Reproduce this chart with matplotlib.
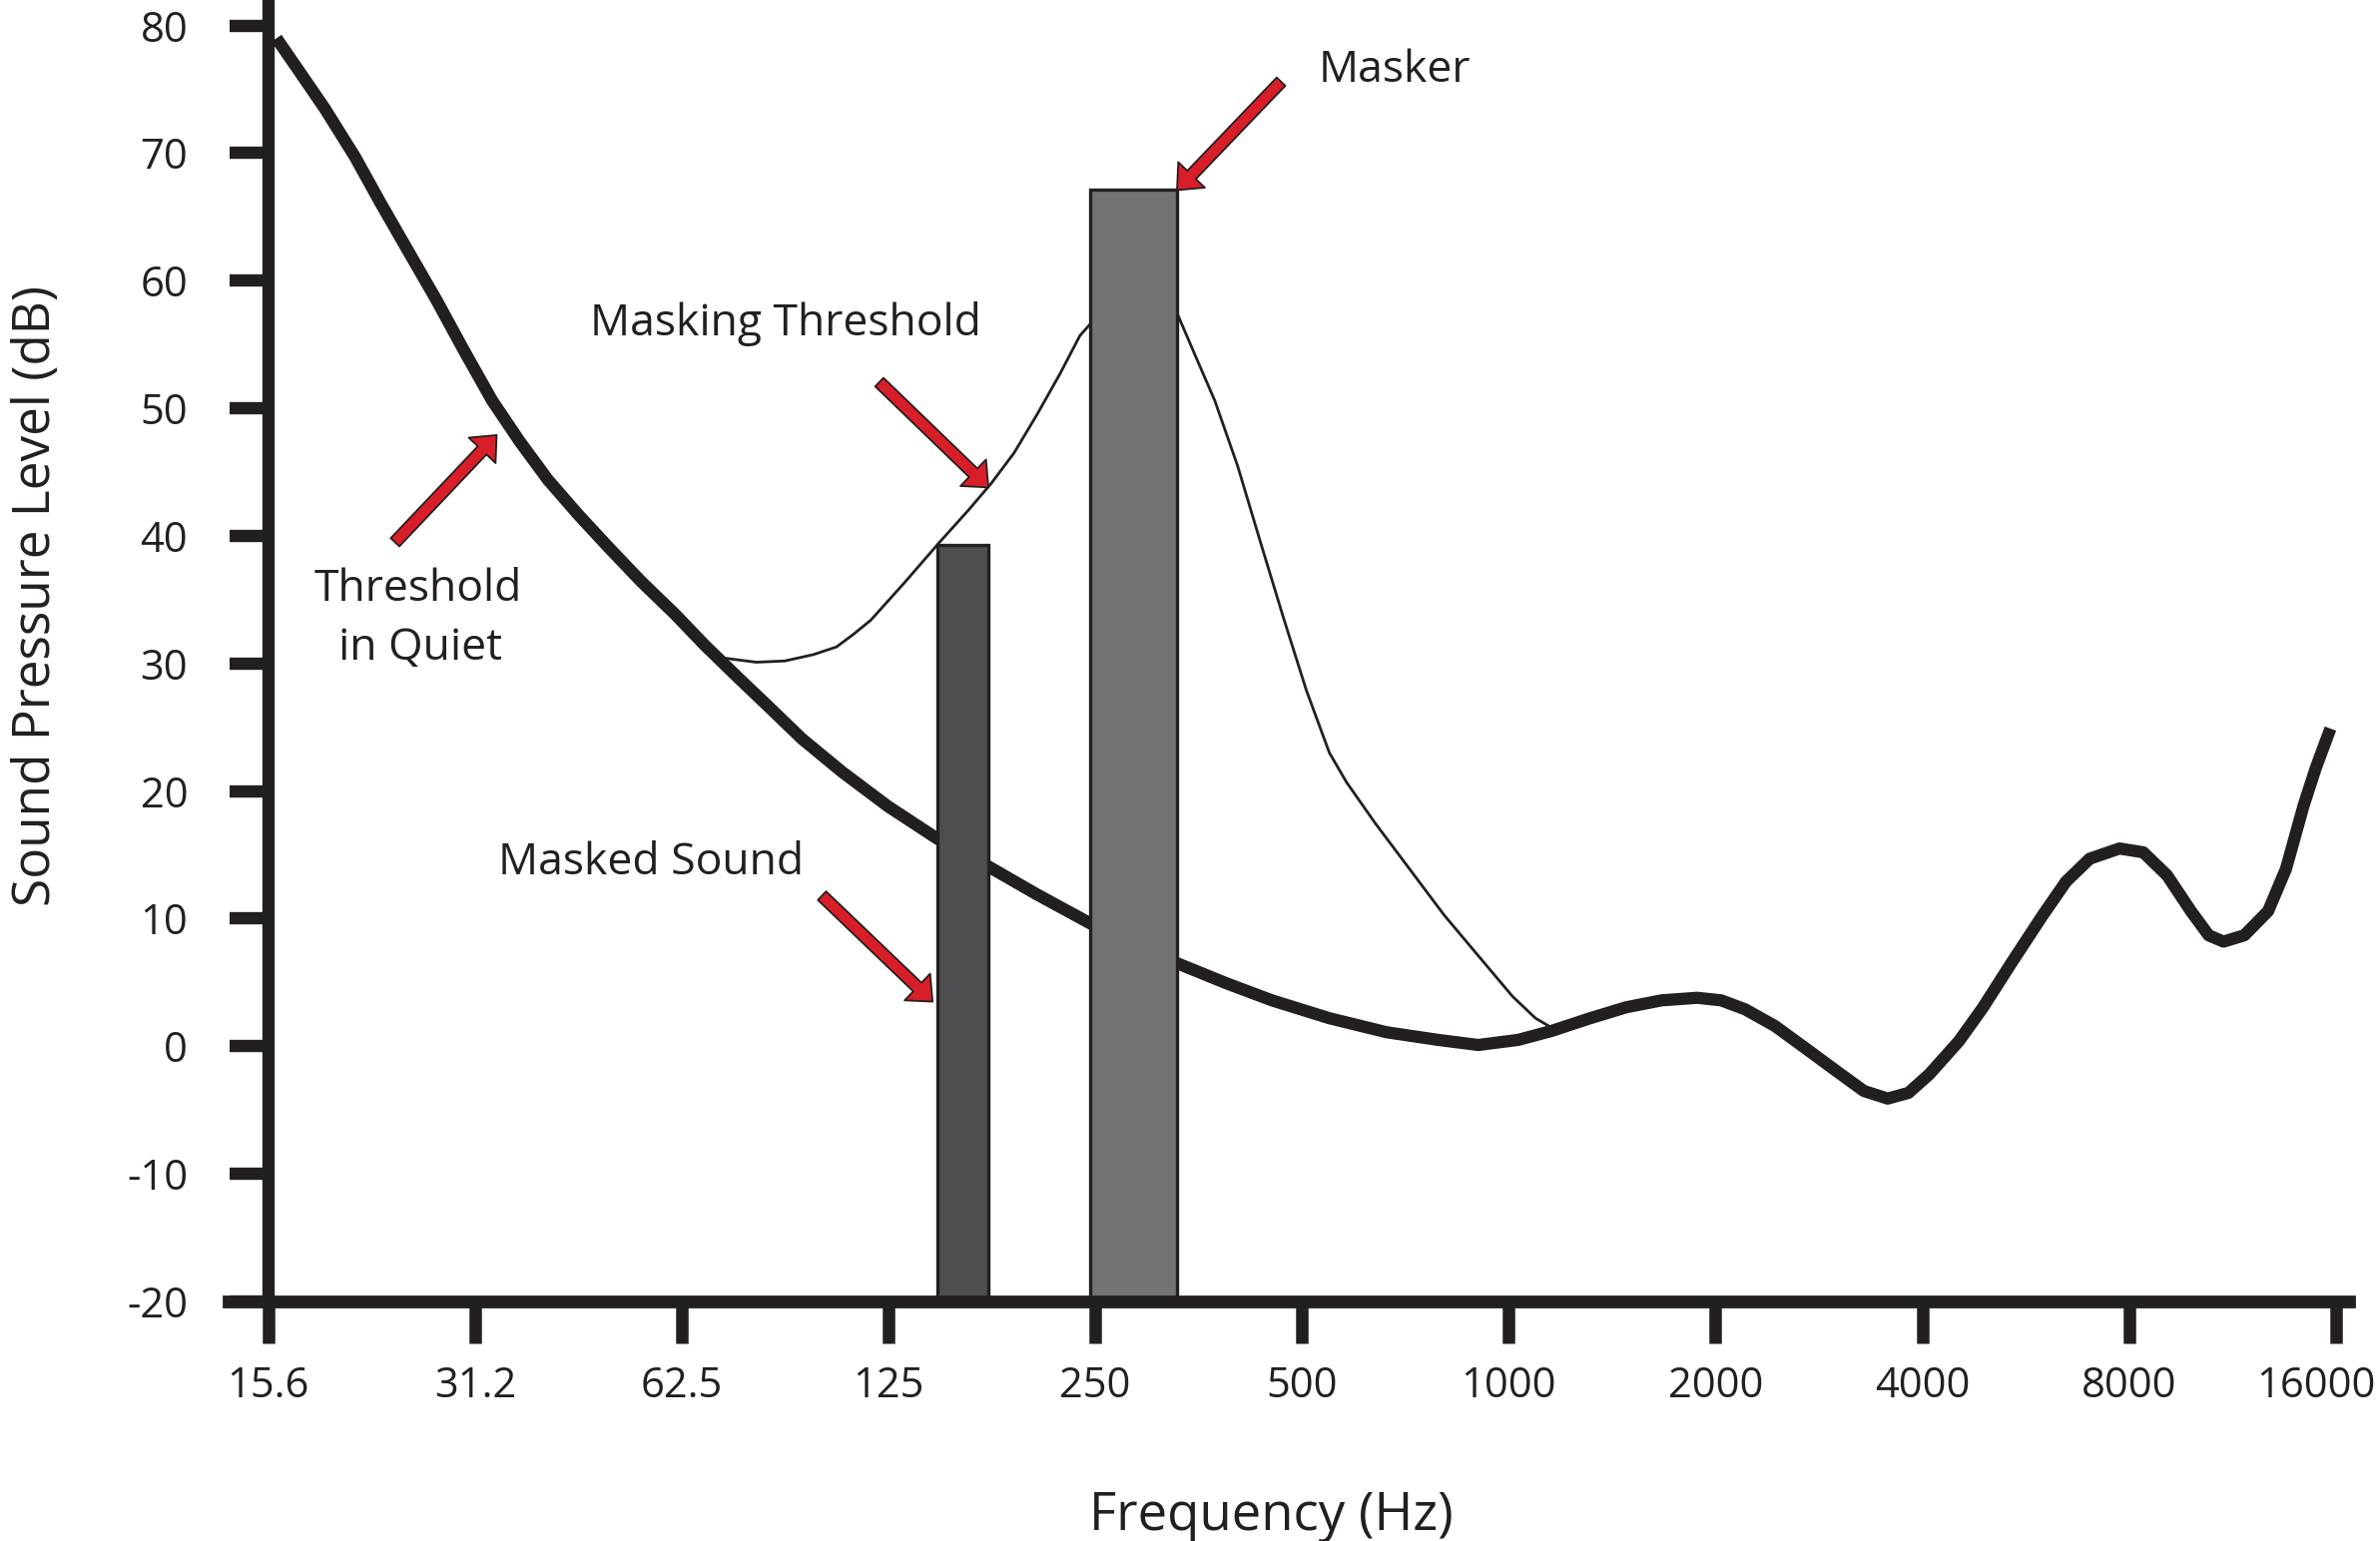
import matplotlib.pyplot as plt
from matplotlib.transforms import ScaledTranslation

plt.rcParams['font.family'] = ['Open Sans', 'DejaVu Sans']
plt.rcParams['axes.unicode_minus'] = False

INK = '#231f20'
RED = '#d81e28'

# axis ticks
freq_ticks = [15.625, 31.25, 62.5, 125, 250, 500, 1000, 2000, 4000, 8000, 16000]
freq_labels = ['15.6', '31.2', '62.5', '125', '250', '500', '1000', '2000', '4000', '8000', '16000']
db_ticks = [-20, -10, 0, 10, 20, 30, 40, 50, 60, 70, 80]

# threshold in quiet (thick curve)
quiet_f = [16.06, 17.34, 18.88, 20.9, 22.76, 24.99, 27.45, 30.13, 33.1, 36.3, 39.9, 44.2,
           48.9, 54.6, 61.0, 67.6, 75.8, 83.3, 93.5, 107.0, 124.8, 146.9, 174.6, 205.6,
           244.5, 285, 329.2, 387.5, 451.9, 547.9, 663.8, 789, 902.6, 1032, 1154, 1314,
           1481, 1669, 1881, 2038, 2208, 2439, 2695, 2975, 3288, 3561, 3819, 4094, 4522,
           4897, 5411, 5978, 6475, 7012, 7748, 8391, 9088, 9842, 10447, 10981, 11777,
           12755, 13539, 14370, 14961, 15716]
quiet_db = [79.0, 76.4, 73.5, 69.7, 66.1, 62.3, 58.5, 54.5, 50.6, 47.4, 44.4, 41.65,
            39.1, 36.4, 33.9, 31.4, 28.8, 26.7, 24.1, 21.5, 18.8, 16.3, 14.1, 11.9,
            9.7, 7.8, 6.5, 4.95, 3.6, 2.2, 1.1, 0.5, 0.1, 0.5, 1.2, 2.2,
            3.05, 3.6, 3.8, 3.6, 2.9, 1.6, -0.1, -1.8, -3.5, -4.1, -3.65, -2.2, 0.4,
            3.0, 6.65, 10.2, 12.9, 14.7, 15.5, 15.2, 13.4, 10.6, 8.7, 8.2, 8.7,
            10.6, 13.9, 18.9, 21.8, 24.9]

# masking threshold produced by the masker (thin curve)
mask_f = [72.6, 80.2, 88.3, 97.2, 105.0, 111.2, 117.8, 132.2, 148.3, 163.3, 176.3, 190.4,
          205.6, 222.1, 237.5, 285, 329.2, 345.3, 373.2, 402.8, 435, 469.7, 507.3, 548,
          580.3, 638.7, 716.9, 804.6, 902.6, 1013, 1093.8, 1159]
mask_db = [30.4, 30.1, 30.2, 30.7, 31.3, 32.3, 33.4, 36.4, 39.5, 42.0, 44.1, 46.5,
           49.5, 52.7, 55.7, 60.5, 57.4, 54.8, 50.6, 45.5, 39.5, 33.6, 27.9, 23.0,
           20.7, 17.5, 13.9, 10.3, 7.1, 3.9, 2.2, 1.4]

# the two tones: masked sound and masker (band edges in Hz, level in dB)
tone_lo = [147.5, 245.7]
tone_hi = [174.7, 329.2]
tone_db = [39.3, 67.1]
tone_colors = ['#4e4e50', '#737375']

# labels and arrows
notes = ['Masker', 'Masking Threshold', 'Threshold', 'in Quiet', 'Masked Sound']
note_f = [681, 88.6, 25.8, 26.0, 56.3]
note_db = [75.6, 55.7, 34.9, 30.3, 13.5]
arrow_from_f = [466, 121.2, 23.9, 100.0]
arrow_from_db = [75.6, 52.05, 39.5, 11.8]
arrow_to_f = [328.8, 174.7, 33.6, 144.9]
arrow_to_db = [67.1, 43.8, 47.9, 3.5]

fig = plt.figure(figsize=(23.84, 15.44), dpi=100)
ax = fig.add_axes([0.09606, 0.15544, 0.89094, 0.84242])

ax.plot(quiet_f, quiet_db, color=INK, lw=8.8, solid_capstyle='butt',
        solid_joinstyle='round', zorder=2)
ax.plot(mask_f, mask_db, color=INK, lw=2, solid_joinstyle='round', zorder=2)

ax.bar(tone_lo, [d + 20 for d in tone_db], width=[h - l for l, h in zip(tone_lo, tone_hi)],
       bottom=-20, align='edge', color=tone_colors, edgecolor=INK, linewidth=2.4, zorder=2.2)

for i in range(len(notes)):
    ax.text(note_f[i], note_db[i], notes[i], ha='center', va='baseline',
            fontsize=32, color=INK, zorder=6)

for i in range(len(arrow_to_f)):
    ax.annotate('', xy=(arrow_to_f[i], arrow_to_db[i]),
                xytext=(arrow_from_f[i], arrow_from_db[i]),
                arrowprops=dict(arrowstyle='simple,head_length=0.76,head_width=1.33,tail_width=0.43',
                                mutation_scale=20, fc=RED, ec=INK, lw=1.3,
                                shrinkA=0, shrinkB=0),
                zorder=5)

ax.set_xscale('log', base=2)
ax.set_xlim(13.68, 16728)
ax.set_ylim(-20, 81.74)
ax.set_xticks(freq_ticks, freq_labels)
ax.set_yticks(db_ticks, [str(v) for v in db_ticks])
ax.minorticks_off()

for s in ['top', 'right']:
    ax.spines[s].set_visible(False)
ax.spines['left'].set_position(('data', 15.625))
ax.spines['left'].set_linewidth(8.9)
ax.spines['bottom'].set_linewidth(9.2)
ax.spines['left'].set_color(INK)
ax.spines['bottom'].set_color(INK)

ax.tick_params(axis='y', length=28, width=8.9, pad=30, labelsize=30, color=INK, labelcolor=INK)
ax.tick_params(axis='x', length=30, width=9, pad=16, labelsize=30, color=INK, labelcolor=INK)

# last label sits a little left so it stays inside the picture
last = ax.get_xticklabels()[-1]
last.set_transform(last.get_transform() + ScaledTranslation(-0.2, 0, fig.dpi_scale_trans))

fig.text(1273 / 2384, 11 / 1544, 'Frequency (Hz)', ha='center', va='baseline',
         fontsize=38, color=INK)
fig.text(50 / 2384, 1 - 596.7 / 1544, 'Sound Pressure Level (dB)', rotation=90,
         rotation_mode='anchor', ha='center', va='baseline', fontsize=37, color=INK)

fig.savefig('out.png', dpi=100)
